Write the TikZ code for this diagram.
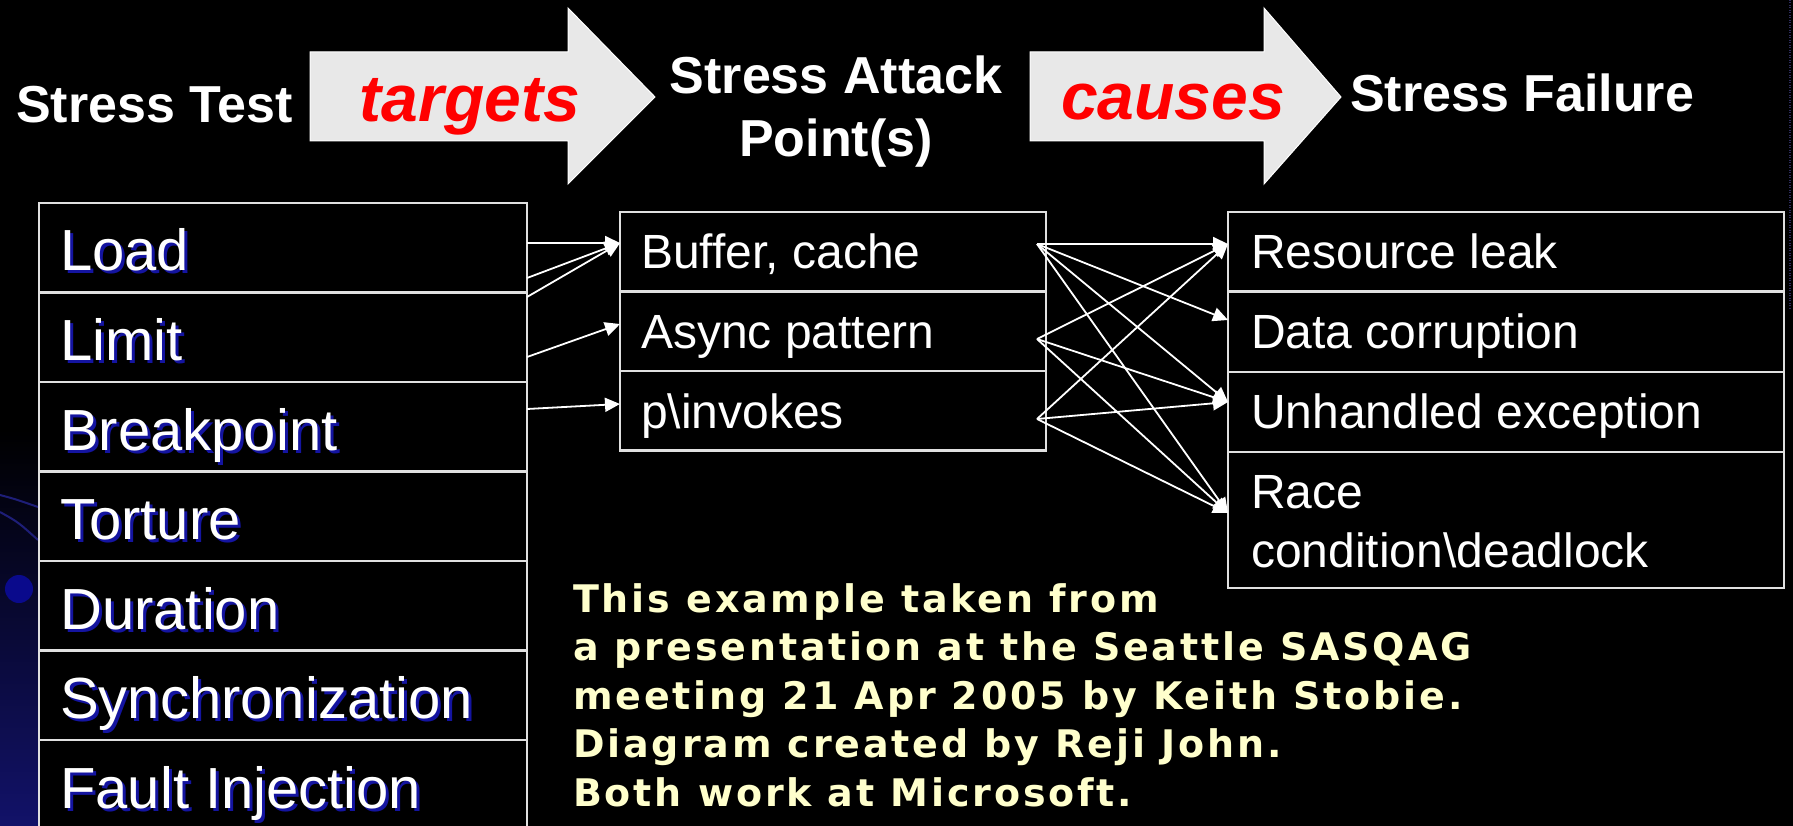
\documentclass[tikz,border=0pt]{standalone}
\usepackage{fontspec}
\setmainfont{Liberation Sans}
\newfontfamily\notefont{DejaVu Sans}[LetterSpace=7.5]
\usetikzlibrary{arrows.meta,calc}
\definecolor{cellborder}{RGB}{224,224,224}
\definecolor{arrowfill}{RGB}{232,232,232}
\definecolor{shadowblue}{RGB}{20,20,160}
\definecolor{notecol}{RGB}{255,255,204}
\definecolor{navyglow}{RGB}{18,18,105}
\definecolor{decoblue}{RGB}{30,30,120}
\definecolor{dotblue}{RGB}{10,10,140}
\definecolor{edgeblue}{RGB}{45,45,95}
\tikzset{
  cell/.style={draw=cellborder, line width=2.5pt, fill=black, inner sep=0pt, outer sep=0pt, anchor=north west},
  lt/.style={font=\fontsize{58}{70}\selectfont, text=white, anchor=base west, inner sep=0pt},
  ltshadow/.style={lt, text=shadowblue},
  mt/.style={font=\fontsize{48}{59}\selectfont, text=white, anchor=base west, inner sep=0pt, align=left},
  hdr/.style={font=\bfseries\fontsize{52}{63}\selectfont, text=white, inner sep=0pt},
  verb/.style={font=\bfseries\itshape\fontsize{66}{70}\selectfont, text=red, inner sep=0pt, anchor=base},
  bigarrow/.style={fill=arrowfill, draw=white, line width=1pt},
  conn/.style={draw=white, line width=1.8pt, -{Triangle[length=15pt,width=14pt]}},
  note/.style={font=\notefont\bfseries\fontsize{38}{48.5}\selectfont, text=notecol, align=left, anchor=base west, inner sep=0pt},
}
\begin{document}
\begin{tikzpicture}[x=1pt,y=1pt]
\useasboundingbox (0,0) rectangle (1793,-826);
\fill[black] (0,0) rectangle (1793,-826);
% left decoration
\shade[top color=black, bottom color=navyglow] (0,-430) rectangle (38,-826);
\draw[decoblue, line width=2pt] (0,-495) .. controls (15,-499) .. (38,-507);
\draw[decoblue, line width=2pt] (0,-512) .. controls (18,-522) .. (38,-540);
\fill[dotblue] (19,-589) circle (14);
\draw[edgeblue, line width=1.5pt, dash pattern=on 1pt off 1.5pt] (1790,0) -- (1790,-310);

% headers (multi-line nodes: base = last line)
\node[hdr, anchor=base west] (st) at (16,-123) {Stress Test};
\node[hdr, anchor=base, align=center] (sap) at (836,-157) {Stress Attack\\Point(s)};
\node[hdr, anchor=base west] (sf) at (1350,-112) {Stress Failure};

% block arrows
\path[bigarrow] (310,-52) -- (568,-52) -- (568,-8) -- (655,-97) -- (568,-184) -- (568,-141) -- (310,-141) -- cycle;
\node[verb] (targets) at (470,-122) {targets};
\path[bigarrow] (1030,-52) -- (1264,-52) -- (1264,-8) -- (1341,-97) -- (1264,-184) -- (1264,-141) -- (1030,-141) -- cycle;
\node[verb] (causes) at (1173,-120) {causes};

% left column
\foreach \name/\txt [count=\i from 0] in {load/Load, limit/Limit, bp/Breakpoint, tort/Torture, dur/Duration, sync/Synchronization, fault/Fault Injection} {
  \node[cell, minimum width=488pt, minimum height=89.5pt] (\name) at (39,{-203-89.5*\i}) {};
  \node[ltshadow] at ([xshift=24pt, yshift=-71pt]\name.north west) {\txt};
  \node[lt] (\name-t) at ([xshift=21pt, yshift=-68pt]\name.north west) {\txt};
}

% middle column
\foreach \name/\txt [count=\i from 0] in {buf/{Buffer, cache}, async/Async pattern, inv/p\textbackslash invokes} {
  \node[cell, minimum width=426pt, minimum height=79.5pt] (\name) at (620,{-212-79.5*\i}) {};
  \node[mt] (\name-t) at ([xshift=21pt, yshift=-57pt]\name.north west) {\txt};
}

% right column
\node[cell, minimum width=556pt, minimum height=79.5pt] (res) at (1228,-212) {};
\node[cell, minimum width=556pt, minimum height=80.5pt] (data) at (1228,-291.5) {};
\node[cell, minimum width=556pt, minimum height=80pt] (unh) at (1228,-372) {};
\node[cell, minimum width=556pt, minimum height=136pt] (race) at (1228,-452) {};
\node[mt] (res-t) at ([xshift=23pt, yshift=-57pt]res.north west) {Resource leak};
\node[mt] (data-t) at ([xshift=23pt, yshift=-56.5pt]data.north west) {Data corruption};
\node[mt] (unh-t) at ([xshift=23pt, yshift=-56pt]unh.north west) {Unhandled exception};
\node[mt] (race-t) at ([xshift=23pt, yshift=-115pt]race.north west) {Race\\condition\textbackslash deadlock};

% connectors left -> middle
\draw[conn] ([yshift=4.75pt]load.east) -- ([yshift=8.75pt]buf.west);
\draw[conn] ([yshift=-30.25pt]load.east) -- ([yshift=8.75pt]buf.west);
\draw[conn] ([yshift=40.25pt]limit.east) -- ([yshift=8.75pt]buf.west);
\draw[conn] ([yshift=-19.75pt]limit.east) -- ([yshift=7.25pt]async.west);
\draw[conn] ([yshift=17.75pt]bp.east) -- ([yshift=6.75pt]inv.west);

% connectors middle -> right
\coordinate (sb) at ([xshift=-9pt, yshift=7.75pt]buf.east);
\coordinate (sa) at ([xshift=-9pt, yshift=-7.75pt]async.east);
\coordinate (si) at ([xshift=-9pt, yshift=-8.25pt]inv.east);
\draw[conn] (sb) -- ([yshift=7.75pt]res.west);
\draw[conn] (sb) -- ([yshift=11.75pt]data.west);
\draw[conn] (sb) -- ([yshift=10pt]unh.west);
\draw[conn] (sb) -- ([yshift=7pt]race.west);
\draw[conn] (sa) -- ([yshift=7.75pt]res.west);
\draw[conn] (sa) -- ([yshift=10pt]unh.west);
\draw[conn] (sa) -- ([yshift=7pt]race.west);
\draw[conn] (si) -- ([yshift=7.75pt]res.west);
\draw[conn] (si) -- ([yshift=10pt]unh.west);
\draw[conn] (si) -- ([yshift=7pt]race.west);

% note
\node[note] (note) at (573,-806) {This example taken from\\a presentation at the Seattle SASQAG\\meeting 21 Apr 2005 by Keith Stobie.\\Diagram created by Reji John.\\Both work at Microsoft.};
\end{tikzpicture}
\end{document}
